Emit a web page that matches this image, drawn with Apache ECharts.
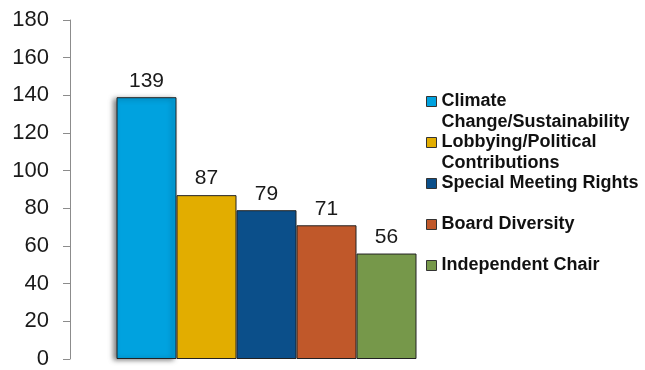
<!DOCTYPE html>
<html>
<head>
<meta charset="utf-8">
<script src="https://cdn.jsdelivr.net/npm/echarts@6/dist/echarts.min.js"></script>
<style>
  html, body { margin: 0; padding: 0; background: #fff; }
  #chart { width: 645px; height: 370px; }
</style>
</head>
<body>
<div id="chart"></div>
<script>
// Shareholder proposal topics and their counts
const topics = ['Climate Change/Sustainability', 'Lobbying/Political Contributions', 'Special Meeting Rights', 'Board Diversity', 'Independent Chair'];
const counts = [139, 87, 79, 71, 56];
const colors = ['#00A2DF', '#E2AD00', '#0B4F8A', '#C0582A', '#76984A'];
// How each legend entry wraps onto lines
const legendLines = [
  ['Climate', 'Change/Sustainability'],
  ['Lobbying/Political', 'Contributions'],
  ['Special Meeting Rights', ' '],
  ['Board Diversity', ' '],
  ['Independent Chair', ' ']
];
const yTicks = [0, 20, 40, 60, 80, 100, 120, 140, 160, 180];

const chart = echarts.init(document.getElementById('chart'), null, { renderer: 'canvas' });

const series = topics.map((name, i) => ({
  type: 'bar',
  name: name,
  data: [counts[i]],
  barWidth: 60,
  barGap: '0%',
  itemStyle: Object.assign({
    color: colors[i],
    borderColor: '#222',
    borderWidth: 1
  }, i === 0 ? { shadowColor: 'rgba(0,0,0,0.5)', shadowBlur: 5, shadowOffsetX: -3, shadowOffsetY: 1 } : {}),
  label: {
    show: true,
    position: 'top',
    distance: 6,
    fontFamily: 'Liberation Sans, Arial, sans-serif',
    fontSize: 21,
    color: '#1a1a1a'
  },
  emphasis: { disabled: true }
}));

chart.setOption({
  animation: false,
  backgroundColor: '#ffffff',
  grid: { left: 70, right: 182, top: 20, bottom: 7, containLabel: false },
  xAxis: {
    type: 'category',
    data: [''],
    axisLine: { show: false },
    axisTick: { show: false },
    axisLabel: { show: false },
    splitLine: { show: false }
  },
  yAxis: {
    type: 'value',
    min: yTicks[0],
    max: yTicks[yTicks.length - 1],
    interval: yTicks[1] - yTicks[0],
    axisLine: { show: true, lineStyle: { color: '#8c8c8c', width: 1 } },
    axisTick: { show: true, length: 7, lineStyle: { color: '#8c8c8c' } },
    axisLabel: {
      margin: 21,
      fontFamily: 'Liberation Sans, Arial, sans-serif',
      fontSize: 22,
      color: '#1a1a1a'
    },
    splitLine: { show: false }
  },
  legend: {
    orient: 'vertical',
    left: 426,
    top: 70,
    padding: 0,
    itemGap: -22,
    itemWidth: 10,
    itemHeight: 10,
    icon: 'rect',
    selectedMode: false,
    itemStyle: { borderColor: '#333', borderWidth: 1, shadowBlur: 0, shadowOffsetX: 0, shadowOffsetY: 0 },
    // a blank leading line keeps the swatch level with the first line of text
    formatter: function (name) {
      return [' '].concat(legendLines[topics.indexOf(name)]).join('\n');
    },
    textStyle: {
      fontFamily: 'Liberation Sans, Arial, sans-serif',
      fontSize: 18,
      fontWeight: 'bold',
      color: '#111',
      lineHeight: 21
    },
    data: topics
  },
  series: series
});
</script>
</body>
</html>
